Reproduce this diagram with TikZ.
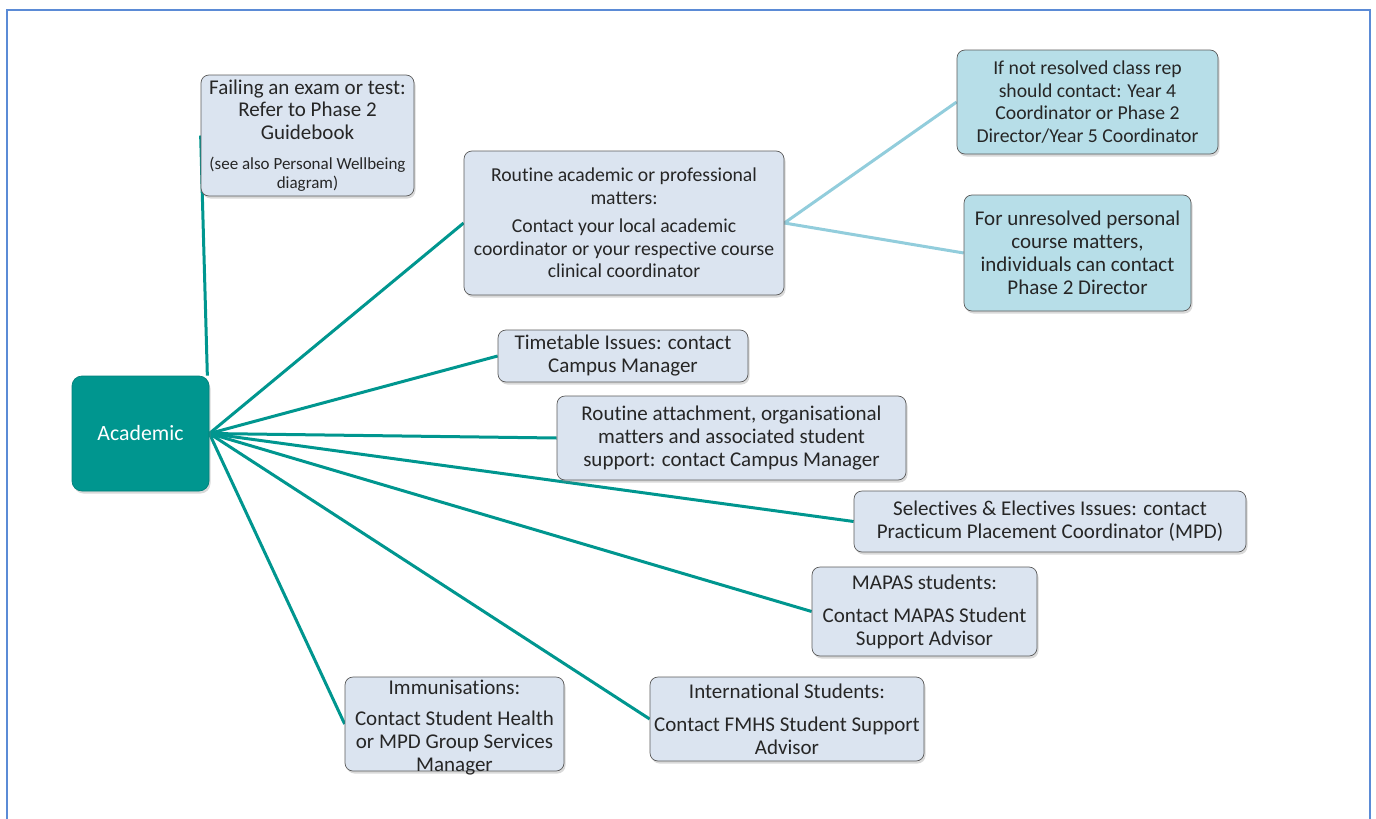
\documentclass[tikz,border=0pt]{standalone}
\usepackage{fontspec}
\setmainfont{Carlito}[Ligatures=NoCommon]
\usetikzlibrary{shadows,backgrounds}
\definecolor{tealc}{RGB}{0,150,143}
\definecolor{boxfill}{RGB}{219,228,240}
\definecolor{cyanfill}{RGB}{183,222,232}
\definecolor{cyanline}{RGB}{146,205,220}
\definecolor{framec}{RGB}{91,139,214}
\definecolor{bordc}{RGB}{90,90,90}
\definecolor{txt}{RGB}{38,38,38}
\newcommand{\smalltxt}{\fontsize{17}{19}\selectfont}
\begin{document}
\begin{tikzpicture}[x=1pt,y=-1pt,
  box/.style={rectangle, rounded corners=8pt, draw=bordc, line width=0.7pt, fill=boxfill,
    align=center, inner sep=0pt, text=txt, font=\fontsize{21}{23}\selectfont,
    drop shadow={opacity=0.3, shadow xshift=1.5pt, shadow yshift=-2.5pt}},
  boxtext/.style={align=center, inner sep=0pt, text=txt, font=\fontsize{21}{23}\selectfont},
  cbox/.style={box, fill=cyanfill},
  narrowtxt/.style={font=\fontsize{19.7}{22.5}\selectfont},
  hub/.style={box, fill=tealc, draw=tealc!85!black, rounded corners=10pt, text=white,
    font=\fontsize{21.8}{24}\selectfont},
  link/.style={draw=tealc, line width=3pt},
  clink/.style={draw=cyanline, line width=3pt}
]
\useasboundingbox (0,0) rectangle (1376,819);

\node[hub, minimum width=137pt, minimum height=115pt] (acad) at (140.5,433.5) {Academic};

\node[box, minimum width=213pt, minimum height=121pt] (fail) at (307.5,135.5)
  {Failing an exam or test:\\[-0.5pt]Refer to Phase 2\\[-0.5pt]Guidebook\\[7pt]
   \smalltxt (see also Personal Wellbeing\\[-4pt]\smalltxt diagram)};

\node[box, narrowtxt, minimum width=320pt, minimum height=144pt] (rout) at (624,223)
  {Routine academic or professional\\matters:\\[6pt]
   Contact your local academic\\coordinator or your respective course\\clinical coordinator};

\node[cbox, narrowtxt, minimum width=261pt, minimum height=104pt] (notres) at (1087.5,102)
  {If not resolved class rep\\should contact: Year 4\\Coordinator or Phase 2\\Director/Year 5 Coordinator};

\node[cbox, minimum width=227pt, minimum height=116pt] (unres) at (1077.5,253)
  {For unresolved personal\\course matters,\\individuals can contact\\Phase 2 Director};

\node[box, minimum width=250pt, minimum height=52pt] (time) at (623,356)
  {Timetable Issues: contact\\Campus Manager};

\node[box, minimum width=349pt, minimum height=84pt] (attach) at (731.5,438)
  {Routine attachment, organisational\\matters and associated student\\support: contact Campus Manager};

\node[box, minimum width=392pt, minimum height=61pt] (sel) at (1050,521.5)
  {Selectives \& Electives Issues: contact\\Practicum Placement Coordinator (MPD)};

\node[box, minimum width=225pt, minimum height=89pt] (mapas) at (924.5,611.5)
  {MAPAS students:\\[10pt]Contact MAPAS Student\\Support Advisor};

\node[box, minimum width=274pt, minimum height=84pt] (intl) at (787,719)
  {International Students:\\[10pt]Contact FMHS Student Support\\Advisor};

\node[box, minimum width=219pt, minimum height=94pt] (immun) at (454.5,724) {};
\node[boxtext] (immuntxt) at (454.5,728)
  {Immunisations:\\[8pt]Contact Student Health\\or MPD Group Services\\Manager};

\begin{scope}[on background layer]
  \draw[framec, line width=2pt] (7,10) rectangle (1370,840);
  \draw[link] (fail.west) -- ([xshift=-2pt]acad.north east);
  \draw[link] (acad.east) -- (rout.west);
  \draw[link] (acad.east) -- (time.west);
  \draw[link] (acad.east) -- (attach.west);
  \draw[link] (acad.east) -- (sel.west);
  \draw[link] (acad.east) -- (mapas.west);
  \draw[link] (acad.east) -- (intl.west);
  \draw[link] (acad.east) -- (immun.west);
  \draw[clink] (rout.east) -- (notres.west);
  \draw[clink] (rout.east) -- (unres.west);
\end{scope}
\end{tikzpicture}
\end{document}
